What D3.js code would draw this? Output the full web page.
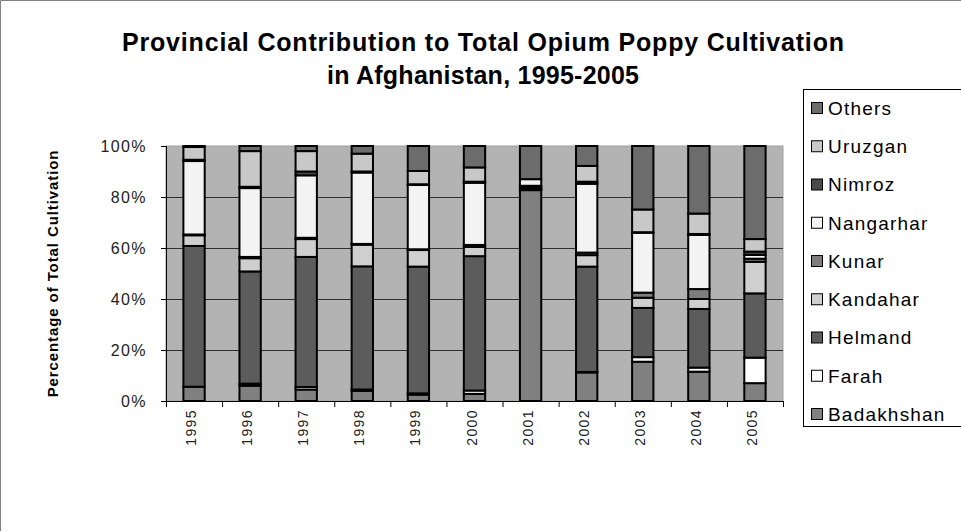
<!DOCTYPE html>
<html>
<head>
<meta charset="utf-8">
<title>Opium Poppy Cultivation</title>
<script src="https://d3js.org/d3.v7.min.js"></script>
<style>
  body { margin: 0; background: #fff; }
  svg { display: block; font-family: Arial, "Liberation Sans", sans-serif; }
</style>
</head>
<body>
<svg width="961" height="532"></svg>
<script>
// provinces, bottom of the stack first
const provinces = ["Badakhshan", "Farah", "Helmand", "Kandahar", "Kunar", "Nangarhar", "Nimroz", "Uruzgan", "Others"];
const years = ["1995", "1996", "1997", "1998", "1999", "2000", "2001", "2002", "2003", "2004", "2005"];

// percent of total cultivation, one array per province, in year order
const badakhshan = [5.6, 6.0, 4.5, 4.0, 2.5, 2.8, 82.7, 11.2, 15.4, 11.5, 7.0];
const farah      = [0.0, 0.8, 1.0, 0.5, 0.5, 1.3, 0.1, 0.2, 1.8, 1.6, 10.0];
const helmand    = [55.2, 44.0, 51.0, 48.3, 49.7, 52.7, 0.6, 41.3, 19.3, 23.0, 25.2];
const kandahar   = [4.2, 5.2, 7.0, 8.5, 6.5, 3.6, 0.5, 4.5, 4.0, 3.9, 12.4];
const kunar      = [0.3, 0.5, 0.5, 0.3, 0.3, 0.8, 0.5, 1.0, 2.0, 3.9, 1.2];
const nangarhar  = [28.8, 27.0, 24.5, 28.0, 25.2, 24.4, 2.6, 27.0, 23.5, 21.2, 1.5];
const nimroz     = [0.5, 0.5, 1.5, 0.4, 0.3, 0.4, 0.0, 0.8, 0.2, 0.4, 1.3];
const uruzgan    = [5.0, 14.0, 8.0, 7.0, 5.2, 5.6, 0.0, 6.2, 8.9, 8.0, 4.9];
const others     = [0.4, 2.0, 2.0, 3.0, 9.8, 8.4, 13.0, 7.8, 24.9, 26.5, 36.5];

const yTicks = [0, 20, 40, 60, 80, 100];

const series = [badakhshan, farah, helmand, kandahar, kunar, nangarhar, nimroz, uruzgan, others];
const fills = {
  Badakhshan: "#808080", Farah: "#ffffff", Helmand: "#5c5c5c", Kandahar: "#cfcfcf",
  Kunar: "#7d7d7d", Nangarhar: "#f3f3f3", Nimroz: "#4a4a4a", Uruzgan: "#c8c8c8", Others: "#6c6c6c"
};

const table = years.map((yr, i) => {
  const row = { year: yr };
  provinces.forEach((p, j) => row[p] = series[j][i]);
  return row;
});

const svg = d3.select("svg");
const plotL = 166, plotR = 783, plotT = 146, plotB = 401;

// chart frame
svg.append("path")
  .attr("d", "M0.5,531 V0.5 H961")
  .attr("fill", "none").attr("stroke", "#808080");

// title
const title = svg.append("text")
  .attr("text-anchor", "middle")
  .attr("font-weight", "bold").attr("font-size", "25px");
title.append("tspan").attr("x", 483).attr("y", 51)
  .attr("textLength", 722).attr("lengthAdjust", "spacing")
  .text("Provincial Contribution to Total Opium Poppy Cultivation");
title.append("tspan").attr("x", 483).attr("y", 84)
  .attr("textLength", 312).attr("lengthAdjust", "spacing")
  .text("in Afghanistan, 1995-2005");

const x = d3.scaleBand().domain(years).range([plotL, plotR]).paddingInner(0.62).paddingOuter(0.31);
const y = d3.scaleLinear().domain([0, 100]).range([plotB, plotT]);

// plot area
svg.append("rect")
  .attr("x", plotL).attr("y", plotT)
  .attr("width", plotR - plotL).attr("height", plotB - plotT)
  .attr("fill", "#b3b3b3").attr("stroke", "#a0a0a0").attr("stroke-width", 1);

// gridlines
svg.append("g")
  .selectAll("line")
  .data(yTicks.filter(t => t > 0 && t < 100))
  .join("line")
  .attr("x1", plotL).attr("x2", plotR)
  .attr("y1", d => Math.round(y(d)) + 0.5).attr("y2", d => Math.round(y(d)) + 0.5)
  .attr("stroke", "#303030");

// stacked bars
const stacked = d3.stack().keys(provinces)(table);
svg.append("g")
  .selectAll("g")
  .data(stacked)
  .join("g")
  .attr("fill", d => fills[d.key])
  .selectAll("rect")
  .data(d => d)
  .join("rect")
  .attr("x", d => x(d.data.year))
  .attr("width", x.bandwidth())
  .attr("y", d => y(d[1]))
  .attr("height", d => y(d[0]) - y(d[1]))
  .attr("stroke", "#000")
  .attr("stroke-width", 2);

// y axis
const yAxis = svg.append("g")
  .attr("transform", `translate(${plotL},0)`)
  .call(d3.axisLeft(y).tickValues(yTicks).tickFormat(d => d + "%").tickSize(5).tickPadding(14));
yAxis.select(".domain").attr("stroke", "#000");
yAxis.selectAll("text")
  .attr("font-size", "16px").attr("letter-spacing", "1.4px")
  .attr("fill", "#222").attr("font-family", "Arial, 'Liberation Sans', sans-serif");

// x axis line and ticks between categories
svg.append("line")
  .attr("x1", plotL - 5).attr("x2", plotR)
  .attr("y1", plotB + 0.5).attr("y2", plotB + 0.5)
  .attr("stroke", "#000");
svg.append("g")
  .selectAll("line")
  .data(d3.range(years.length + 1))
  .join("line")
  .attr("x1", i => plotL + i * x.step() + 0.5).attr("x2", i => plotL + i * x.step() + 0.5)
  .attr("y1", plotB).attr("y2", plotB + 6)
  .attr("stroke", "#000");

// year labels, rotated
svg.append("g")
  .selectAll("text")
  .data(years)
  .join("text")
  .attr("transform", d => `translate(${x(d) + x.bandwidth() / 2 + 2},${plotB + 8}) rotate(-90)`)
  .attr("text-anchor", "end")
  .attr("font-size", "14px")
  .attr("letter-spacing", "1.4px")
  .attr("fill", "#222")
  .text(d => d);

// y axis title
svg.append("text")
  .attr("transform", `translate(58,${(plotT + plotB) / 2}) rotate(-90)`)
  .attr("text-anchor", "middle")
  .attr("font-weight", "bold")
  .attr("font-size", "15px")
  .attr("letter-spacing", "0.9px")
  .text("Percentage of Total Cultivation");

// legend, Others on top
const legend = svg.append("g");
legend.append("rect")
  .attr("x", 803.5).attr("y", 89.5)
  .attr("width", 170).attr("height", 337)
  .attr("fill", "#fff").attr("stroke", "#000");
const items = legend.selectAll("g")
  .data(provinces.slice().reverse())
  .join("g")
  .attr("transform", (d, i) => `translate(0,${108 + i * 38.25})`);
items.append("rect")
  .attr("x", 811.5).attr("y", -5.5)
  .attr("width", 11).attr("height", 11)
  .attr("fill", d => fills[d]).attr("stroke", "#000");
items.append("text")
  .attr("x", 828).attr("y", 0)
  .attr("dy", "0.36em")
  .attr("font-size", "19px")
  .attr("letter-spacing", "1.2px")
  .text(d => d);
</script>
</body>
</html>
